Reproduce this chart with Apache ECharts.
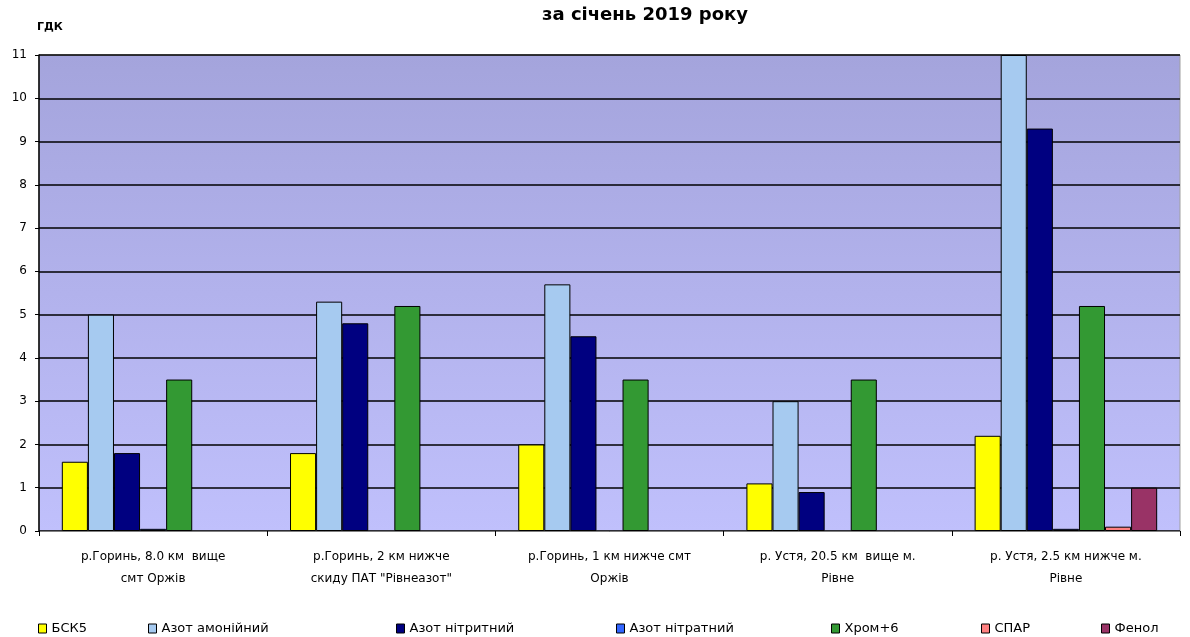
<!DOCTYPE html>
<html>
<head>
<meta charset="utf-8">
<script src="https://cdn.jsdelivr.net/npm/echarts@6/dist/echarts.min.js"></script>
<style>
  html, body { margin: 0; padding: 0; background: #fff; }
  #chart { width: 1190px; height: 637px; }
</style>
</head>
<body>
<div id="chart"></div>
<script>
var categories = [
  'р.Горинь, 8.0 км  вище\nсмт Оржів',
  'р.Горинь, 2 км нижче\nскиду ПАТ "Рівнеазот"',
  'р.Горинь, 1 км нижче смт\nОржів',
  'р. Устя, 20.5 км  вище м.\nРівне',
  'р. Устя, 2.5 км нижче м.\nРівне'
];
var seriesNames = ['БСК5', 'Азот амонійний', 'Азот нітритний', 'Азот нітратний', 'Хром+6', 'СПАР', 'Фенол'];
var seriesColors = ['#ffff00', '#a6caf0', '#000080', '#3366ff', '#339933', '#ff8080', '#993366'];

// null = нема значення (стовпчик не малюється)
var bsk5 = [1.6, 1.8, 2.0, 1.1, 2.2];
var azotAmon = [5.0, 5.3, 5.7, 3.0, 11.0];
var azotNitryt = [1.8, 4.8, 4.5, 0.9, 9.3];
var azotNitrat = [0.05, null, null, null, 0.05];
var khrom = [3.5, 5.2, 3.5, 3.5, 5.2];
var spar = [null, null, null, null, 0.1];
var fenol = [null, null, null, null, 1.0];
var seriesData = [bsk5, azotAmon, azotNitryt, azotNitrat, khrom, spar, fenol];

var legendLeft = [38, 148, 396, 616, 831, 981, 1101];

var font = 'DejaVu Sans, Liberation Sans, sans-serif';

var chart = echarts.init(document.getElementById('chart'));

var series = seriesNames.map(function (name, i) {
  return {
    name: name,
    type: 'bar',
    barGap: '0%',
    barCategoryGap: '20%',
    itemStyle: {
      color: seriesColors[i],
      borderColor: '#000',
      borderWidth: 1
    },
    data: seriesData[i]
  };
});

var legends = seriesNames.map(function (name, i) {
  return {
    data: [name],
    left: legendLeft[i],
    top: 622,
    itemWidth: 8,
    itemHeight: 9,
    itemGap: 4,
    icon: 'rect',
    itemStyle: { borderColor: '#000', borderWidth: 1 },
    textStyle: { fontFamily: font, fontSize: 13, color: '#000' },
    selectedMode: false,
    padding: 0
  };
});

var option = {
  backgroundColor: '#fff',
  animation: false,
  title: {
    text: 'за січень 2019 року',
    left: 640,
    textAlign: 'center',
    top: 1,
    textStyle: { fontFamily: font, fontSize: 18, fontWeight: 'bold', color: '#000' }
  },
  graphic: [{
    type: 'text',
    left: 37,
    top: 22,
    style: { text: 'ГДК', font: 'bold 11px ' + font, fill: '#000' }
  }],
  legend: legends,
  grid: {
    left: 39,
    right: 10,
    top: 55,
    bottom: 106,
    show: true,
    borderColor: '#a0a0a0',
    borderWidth: 1,
    backgroundColor: new echarts.graphic.LinearGradient(0, 0, 0, 1, [
      { offset: 0, color: '#a4a4dc' },
      { offset: 1, color: '#c0c0fc' }
    ])
  },
  xAxis: {
    type: 'category',
    data: categories,
    axisLine: { lineStyle: { color: '#808080', width: 1 } },
    axisTick: { show: true, alignWithLabel: false, length: 5, lineStyle: { color: '#000' } },
    axisLabel: {
      interval: 0,
      margin: 15,
      fontFamily: font,
      fontSize: 12,
      lineHeight: 22,
      color: '#000'
    }
  },
  yAxis: {
    type: 'value',
    min: 0,
    max: 11,
    interval: 1,
    axisLine: { show: true, lineStyle: { color: '#000', width: 1.5 } },
    axisTick: { show: true, length: 4, lineStyle: { color: '#000' } },
    axisLabel: { fontFamily: font, fontSize: 12, color: '#000', margin: 12 },
    splitLine: { show: true, lineStyle: { color: '#000', width: 1.5 } }
  },
  series: series
};

chart.setOption(option);
</script>
</body>
</html>
